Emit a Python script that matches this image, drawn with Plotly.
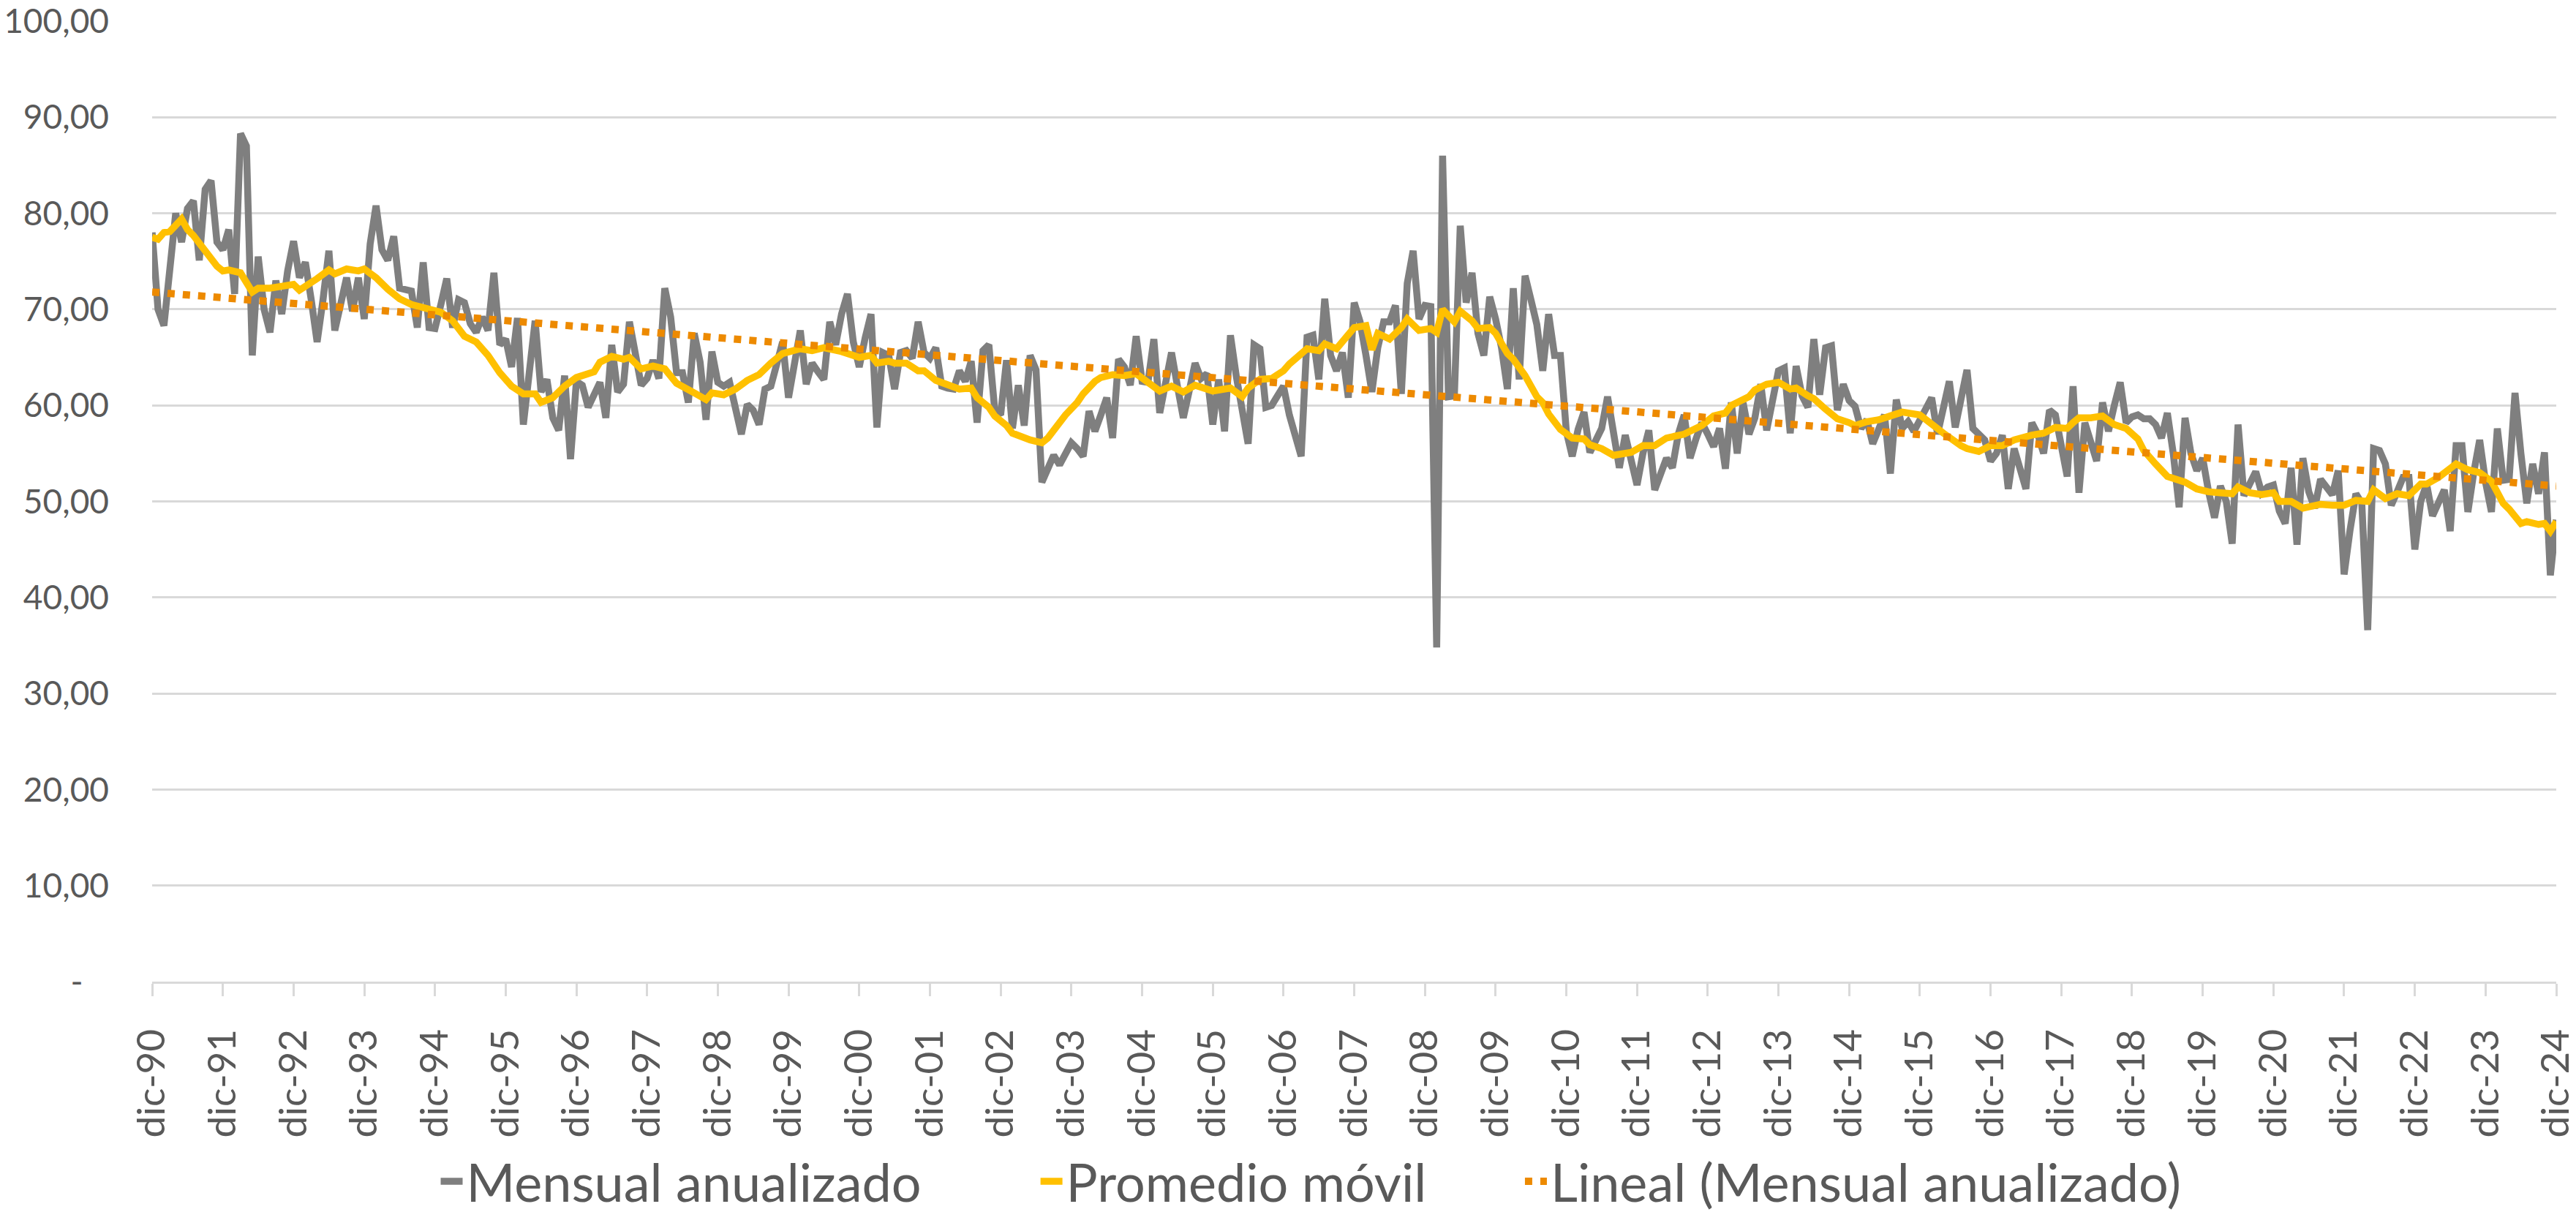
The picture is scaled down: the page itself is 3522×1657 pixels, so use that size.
import plotly.graph_objects as go

# ---- data (monthly, dic-90 .. dic-24) ----
mensual_anualizado = [
    78.0, 70.0, 68.3, 73.5, 80.0, 77.0, 80.5, 81.3, 75.1, 82.5, 83.4, 77.0,
    76.2, 78.3, 71.6, 88.3, 87.0, 65.2, 75.5, 70.0, 67.6, 73.0, 69.5, 74.0,
    77.1, 73.3, 74.9, 71.0, 66.6, 71.0, 76.1, 67.8, 70.5, 73.3, 69.8, 73.3,
    69.0, 76.8, 80.8, 76.2, 75.1, 77.6, 72.2, 72.0, 71.9, 68.1, 74.9, 68.1,
    68.0, 70.5, 73.2, 68.1, 71.0, 70.7, 68.5, 67.6, 69.2, 67.8, 73.8, 66.3,
    66.9, 64.0, 69.1, 58.0, 63.5, 68.8, 61.4, 62.7, 58.7, 57.4, 63.1, 54.4,
    62.5, 62.1, 59.8, 61.0, 62.4, 58.7, 66.3, 61.4, 62.2, 68.7, 65.5, 62.1,
    62.8, 64.7, 62.8, 72.2, 69.2, 63.4, 63.4, 60.3, 67.5, 64.5, 58.5, 65.6,
    62.4, 62.0, 62.4, 60.0, 57.0, 60.1, 59.5, 58.0, 61.7, 62.0, 64.6, 66.6,
    60.8, 64.5, 67.8, 62.2, 64.4, 63.5, 62.7, 68.7, 66.3, 69.5, 71.6, 66.6,
    64.0, 67.0, 69.5, 57.7, 65.5, 65.2, 61.7, 65.5, 65.7, 64.9, 68.7, 65.5,
    64.9, 66.0, 62.0, 61.8, 61.7, 63.6, 62.5, 64.6, 58.2, 65.7, 66.3, 59.5,
    59.0, 64.7, 57.6, 62.1, 57.9, 65.2, 63.7, 52.0, 53.5, 54.8, 53.8, 55.0,
    56.1, 55.5, 54.7, 59.4, 57.3, 59.0, 60.8, 56.6, 64.8, 64.0, 62.1, 67.2,
    62.5, 62.4, 66.9, 59.2, 62.0, 65.5, 62.0, 58.7, 61.5, 64.4, 62.8, 63.3,
    58.0, 62.7, 57.3, 67.3, 63.0, 59.5, 56.0, 66.3, 65.9, 59.8, 60.0, 61.0,
    62.0, 59.0, 57.0, 54.7, 67.1, 67.3, 62.7, 71.1, 65.2, 63.6, 65.5, 60.8,
    70.7, 68.7, 65.2, 61.4, 66.0, 68.7, 68.7, 70.4, 61.2, 72.7, 76.1, 69.0,
    70.4, 70.3, 34.8, 86.0, 60.9, 61.0, 78.7, 70.7, 73.8, 67.5, 65.2, 71.3,
    69.0, 66.0, 61.7, 72.2, 62.7, 73.5, 71.0, 68.4, 63.6, 69.5, 65.2, 65.2,
    57.3, 54.7, 57.5, 59.3, 55.1, 56.5, 57.6, 60.9, 57.0, 53.5, 56.9, 54.0,
    51.7, 55.0, 57.4, 51.2, 53.0, 54.5, 53.5, 57.0, 59.0, 54.5, 56.5, 58.2,
    57.0, 55.7, 57.6, 53.4, 60.3, 55.0, 60.3, 57.0, 58.7, 62.2, 57.4, 61.0,
    63.6, 63.9, 57.1, 64.1, 61.0, 59.8, 66.9, 61.1, 66.0, 66.2, 59.5, 62.2,
    60.5, 59.9, 57.6, 58.5, 56.0, 57.5, 59.0, 52.9, 60.6, 57.6, 58.3, 57.3,
    58.5, 59.5, 60.8, 57.0, 60.0, 62.5, 57.7, 61.0, 63.7, 57.6, 57.0, 56.4,
    54.2, 55.0, 56.9, 51.3, 55.5, 53.5, 51.3, 58.2, 57.0, 55.0, 59.5, 59.0,
    56.0, 52.6, 62.0, 50.9, 58.2, 56.0, 54.2, 60.3, 57.3, 60.0, 62.4, 58.2,
    58.8, 59.0, 58.6, 58.6, 58.0, 56.6, 59.2, 55.0, 49.4, 58.7, 55.0, 53.2,
    54.5, 51.0, 48.3, 51.6, 50.0, 45.6, 58.0, 50.6, 52.0, 53.1, 50.9, 51.5,
    51.7, 49.0, 47.7, 53.5, 45.5, 54.5, 51.0, 49.3, 52.3, 51.5, 50.7, 53.2,
    42.4, 47.0, 50.8, 49.8, 36.6, 55.5, 55.3, 53.9, 49.6, 51.0, 52.5, 52.5,
    45.0, 50.0, 51.8, 48.5, 50.0, 51.2, 46.9, 55.8, 55.8, 48.9, 53.0, 56.4,
    52.0, 48.9, 57.6, 52.2, 52.3, 61.3, 55.0, 49.8, 53.9, 50.8, 55.1, 42.3,
    48.1,
]

promedio_meses = [
    0, 1, 2, 3, 5, 6, 7, 9, 11, 12, 13, 15, 17, 18, 20, 22, 24, 25, 27, 28,
    30, 31, 33, 35, 36, 38, 40, 42, 44, 46, 48, 49, 51, 53, 55, 57, 59, 61,
    63, 65, 66, 68, 70, 72, 75, 76, 78, 80, 81, 83, 85, 87, 89, 90, 92, 94,
    95, 97, 99, 101, 103, 105, 107, 110, 112, 114, 117, 120, 122, 123, 125,
    126, 128, 130, 131, 133, 135, 137, 139, 140, 142, 143, 145, 146, 149,
    151, 152, 154, 155, 157, 158, 160, 161, 163, 165, 167, 169, 171, 173,
    175, 177, 180, 183, 185, 186, 188, 190, 192, 193, 196, 198, 199, 201,
    203, 204, 206, 207, 208, 210, 212, 213, 215, 217, 218, 219, 221, 222,
    224, 225, 227, 228, 230, 231, 233, 235, 236, 237, 238, 239, 241, 243,
    244, 246, 248, 250, 251, 253, 255, 257, 260, 263, 265, 267, 268, 271,
    272, 274, 276, 278, 279, 281, 282, 284, 286, 288, 289, 291, 293, 295,
    297, 300, 302, 304, 307, 308, 310, 312, 314, 316, 319, 321, 323, 325,
    326, 327, 329, 331, 333, 335, 337, 338, 340, 342, 343, 345, 347, 349,
    351, 353, 354, 356, 358, 360, 361, 363, 365, 366, 368, 370, 372, 374,
    376, 377, 379, 381, 383, 385, 386, 388, 390, 391, 393, 395, 397, 399,
    400, 402, 403, 405, 406, 407, 408,
]
promedio_movil = [
    77.5, 77.3, 78.0, 78.1, 79.4, 78.3, 77.7, 76.0, 74.5, 74.0, 74.1, 73.8,
    71.8, 72.2, 72.2, 72.4, 72.6, 72.0, 72.7, 73.2,
    74.1, 73.7, 74.2, 74.0, 74.2, 73.3, 72.1, 71.1, 70.5, 70.2, 69.8, 69.7,
    68.8, 67.2, 66.6, 65.2, 63.4, 62.0,
    61.2, 61.2, 60.3, 60.8, 62.0, 62.9, 63.5, 64.5, 65.1, 64.8, 65.0, 63.8,
    64.1, 63.8, 62.3, 61.9, 61.3, 60.6,
    61.3, 61.1, 61.7, 62.6, 63.2, 64.4, 65.4, 65.9, 65.7, 66.0, 65.6, 65.0,
    65.2, 64.4, 64.6,
    64.4, 64.4, 63.6, 63.6, 62.6, 62.1, 61.7, 61.8, 60.8, 59.8, 58.9, 57.9,
    57.1, 56.4,
    56.1, 56.6, 58.2, 59.0, 60.3, 61.2, 62.5, 62.9, 63.2, 63.1, 63.3, 62.5,
    61.5, 62.0,
    61.4, 62.1, 61.5, 61.8, 60.9, 61.8, 62.7, 62.8, 63.6, 64.3, 65.9, 65.7,
    66.4, 65.9,
    67.3, 68.1, 68.3, 65.8, 67.5, 66.9, 68.1, 69.0, 67.8, 68.0, 67.6, 70.0,
    68.7, 69.8,
    68.8, 68.0, 68.1, 67.5, 65.4, 64.8, 63.1, 60.9, 60.3, 59.1, 58.3, 57.5,
    56.6, 56.5,
    55.9, 55.5, 54.8, 55.1, 55.1, 55.8, 55.8, 56.6, 57.0, 57.9, 58.9, 59.2,
    60.0, 60.9,
    61.6, 62.2, 62.4, 61.7, 61.8, 61.0, 60.7, 59.6, 58.6, 58.2, 57.9, 58.3,
    58.5, 58.9,
    59.3, 59.0, 58.0, 57.1, 55.8, 55.5, 55.2, 55.8, 55.8, 56.4, 56.9, 57.1,
    57.7, 57.6,
    58.2, 58.7, 58.7, 58.9, 58.0, 57.6, 56.5, 55.3, 53.9, 52.6, 52.4, 52.0,
    51.3, 51.0,
    50.9, 50.8, 51.5, 50.9, 50.7, 50.9, 50.0, 50.0, 49.3, 49.4, 49.7, 49.6,
    49.6, 50.1,
    50.0, 51.2, 50.3, 50.8, 50.6, 51.8, 51.8, 52.5, 53.5, 53.9, 53.3, 53.0,
    52.1, 49.8,
    49.2, 47.7, 47.9, 47.6, 47.7, 46.9, 47.9,
]

lineal_meses = [0, 408]
lineal_valores = [71.8, 51.6]

tick_meses = [0, 12, 24, 36, 48, 60, 72, 84, 96, 108, 120, 132, 144, 156, 168,
              180, 192, 204, 216, 228, 240, 252, 264, 276, 288, 300, 312, 324,
              336, 348, 360, 372, 384, 396, 408]
tick_etiquetas = ["dic-90", "dic-91", "dic-92", "dic-93", "dic-94", "dic-95",
                  "dic-96", "dic-97", "dic-98", "dic-99", "dic-00", "dic-01",
                  "dic-02", "dic-03", "dic-04", "dic-05", "dic-06", "dic-07",
                  "dic-08", "dic-09", "dic-10", "dic-11", "dic-12", "dic-13",
                  "dic-14", "dic-15", "dic-16", "dic-17", "dic-18", "dic-19",
                  "dic-20", "dic-21", "dic-22", "dic-23", "dic-24"]

y_ticks = [0, 10, 20, 30, 40, 50, 60, 70, 80, 90, 100]
y_etiquetas = ["-\u00a0\u00a0\u00a0", "10,00", "20,00", "30,00", "40,00",
               "50,00", "60,00", "70,00", "80,00", "90,00", "100,00"]

meses = list(range(len(mensual_anualizado)))

FONT = "Lato"
TXT = "#595959"
GRID = "#d9d9d9"

fig = go.Figure()
fig.add_trace(go.Scatter(
    x=meses, y=mensual_anualizado, mode="lines", name="Mensual anualizado",
    line=dict(color="#7F7F7F", width=9.5), legend="legend"))
fig.add_trace(go.Scatter(
    x=promedio_meses, y=promedio_movil, mode="lines", name="Promedio móvil",
    line=dict(color="#FFC000", width=9.5), legend="legend2"))
fig.add_trace(go.Scatter(
    x=lineal_meses, y=lineal_valores, mode="lines",
    name="Lineal (Mensual anualizado)",
    line=dict(color="#ED8A00", width=10, dash="10px,11px"),
    legend="legend3"))

leg_common = dict(orientation="h", xanchor="left", y=-0.208,
                  yanchor="middle", font=dict(size=72, color=TXT, family=FONT),
                  bgcolor="rgba(0,0,0,0)", borderwidth=0)

fig.update_layout(
    width=3522, height=1657,
    margin=dict(l=208, r=27, t=29, b=315, autoexpand=False),
    paper_bgcolor="white", plot_bgcolor="white",
    font=dict(family=FONT, color=TXT, size=46),
    showlegend=True,
    legend=dict(x=0.1185, **leg_common),
    legend2=dict(x=0.3680, **leg_common),
    legend3=dict(x=0.5695, **leg_common),
    xaxis=dict(range=[0, 408], tickmode="array", tickvals=tick_meses,
               ticktext=tick_etiquetas, tickangle=-90, showgrid=False,
               zeroline=False, showline=True, linecolor=GRID, linewidth=2.5,
               ticks="outside", ticklen=17, tickwidth=2.5, tickcolor=GRID,
               ticklabelstandoff=24, ticklabeloverflow="allow",
               automargin=False,
               tickfont=dict(size=53, color=TXT, family=FONT)),
    yaxis=dict(range=[0, 100], tickmode="array", tickvals=y_ticks,
               ticktext=y_etiquetas, showgrid=True, gridcolor=GRID,
               gridwidth=2.5, zeroline=False, showline=False, ticks="",
               ticklabelstandoff=58, automargin=False,
               tickfont=dict(size=46, color=TXT, family=FONT)),
)

fig.write_html(
    "out.html",
    config={"displayModeBar": False},
    post_script="document.body.style.margin='0px';"
                "document.body.style.overflow='hidden';")
